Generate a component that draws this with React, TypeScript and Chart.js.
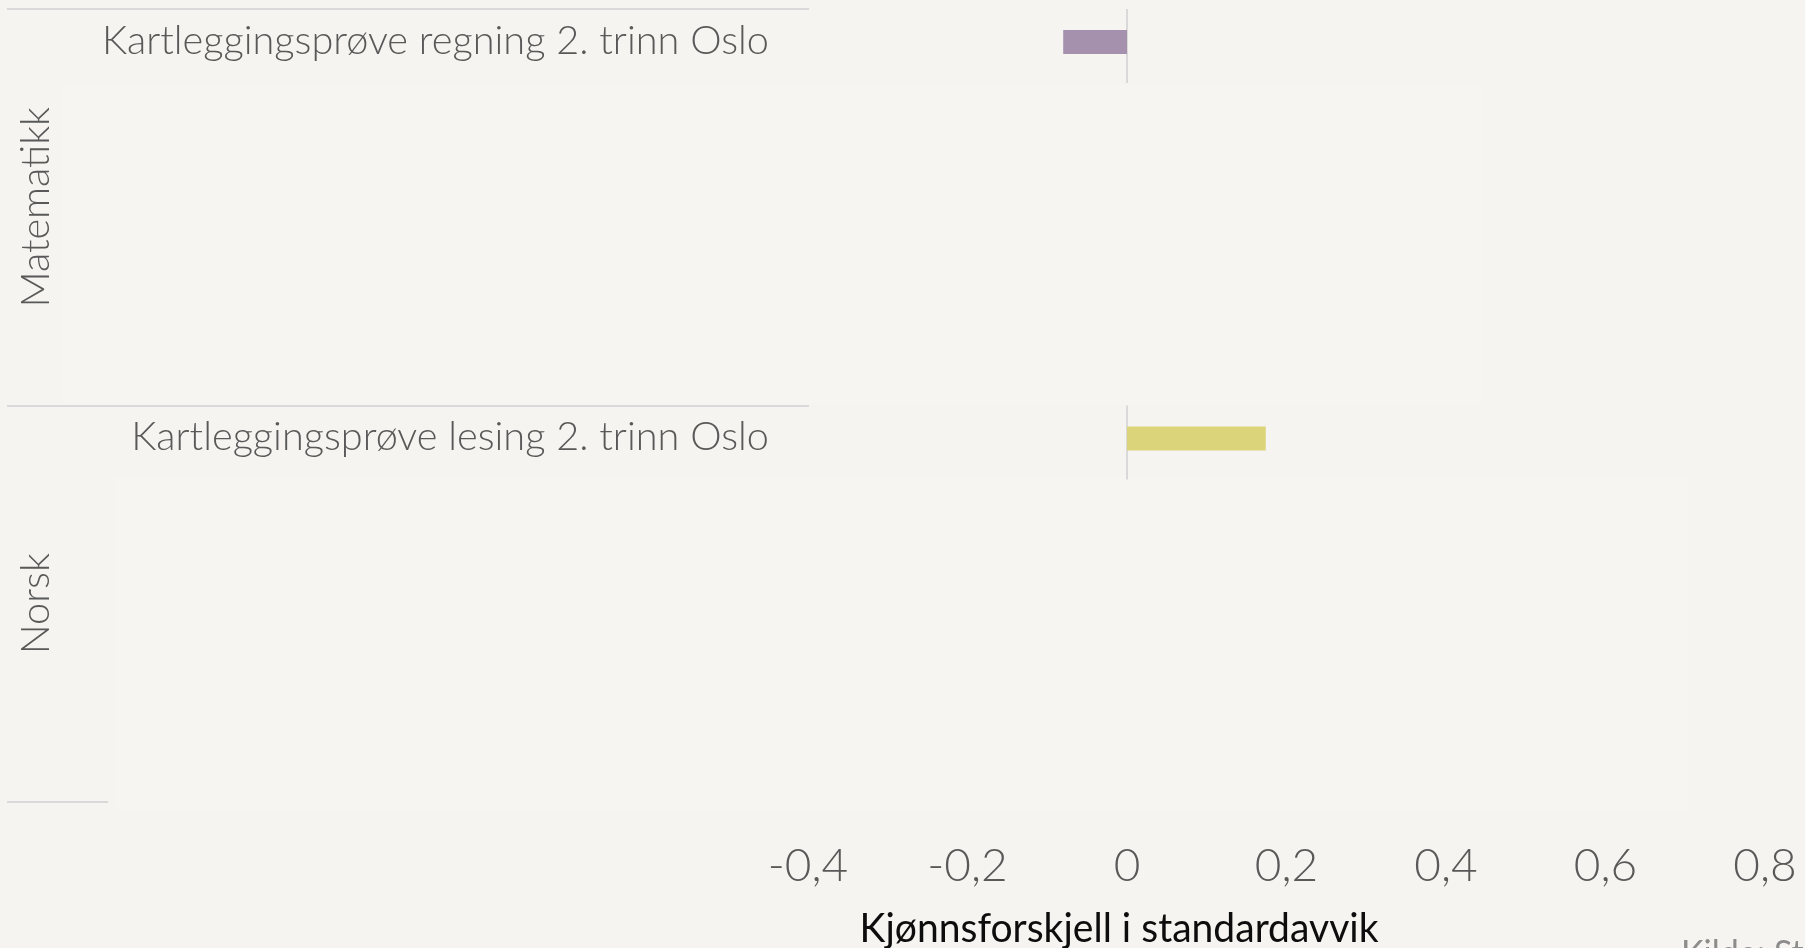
import React, { useEffect, useRef } from "react";
import { Chart, registerables } from "chart.js";

Chart.register(...registerables);

// ---------- data ----------
const groups = ["Matematikk", "Norsk"];
const categories = [
  "Kartleggingsprøve regning 2. trinn Oslo",
  "Kartleggingsprøve lesing 2. trinn Oslo",
];
const values = [-0.08, 0.174];
const barColors = ["#a591ad", "#dbd47a"];
const xTicks = [-0.4, -0.2, 0, 0.2, 0.4, 0.6, 0.8];
const slotsPerGroup = 6;
const axisTitle = "Kjønnsforskjell i standardavvik";
const sourceText = "Kilde: Statistisk sentralbyrå";

// ---------- styles ----------
const W = 1805;
const H = 948;
const BG = "#f5f4f0";
const LINE = "#d9d9d9";
const LABEL_COLOR = "#595959";
const FONT = "Lato, 'Open Sans', sans-serif";

function fmt(v: number): string {
  if (Math.abs(v) < 1e-9) return "0";
  return v.toFixed(1).replace(".", ",");
}

function drawScaledText(
  ctx: CanvasRenderingContext2D,
  text: string,
  x: number,
  y: number,
  font: string,
  color: string,
  sx: number,
  align: CanvasTextAlign
) {
  ctx.save();
  ctx.font = font;
  ctx.translate(x, y);
  ctx.scale(sx, 1);
  ctx.textAlign = align;
  ctx.textBaseline = "middle";
  ctx.fillStyle = color;
  ctx.fillText(text, 0, 0);
  ctx.restore();
}

export default function App() {
  const ref = useRef<HTMLCanvasElement | null>(null);

  useEffect(() => {
    const canvas = ref.current;
    if (!canvas) return;

    const labels: string[] = [];
    const data: (number | null)[] = [];
    const colors: string[] = [];
    groups.forEach((_, g) => {
      for (let i = 0; i < slotsPerGroup; i++) {
        labels.push(i === 0 ? categories[g] : "");
        data.push(i === 0 ? values[g] : null);
        colors.push(barColors[g]);
      }
    });

    const decor = {
      id: "decor",
      beforeDraw(chart: any) {
        const ctx = chart.ctx as CanvasRenderingContext2D;
        ctx.save();
        ctx.fillStyle = BG;
        ctx.fillRect(0, 0, W, H);
        // faint lighter panels
        ctx.fillStyle = "#f7f5f2";
        ctx.fillRect(62, 84, 1420, 321);
        ctx.fillRect(115, 476, 1572, 334);
        ctx.restore();
      },
      beforeDatasetsDraw(chart: any) {
        const ctx = chart.ctx as CanvasRenderingContext2D;
        const area = chart.chartArea;
        const xs = chart.scales.x;
        const ys = chart.scales.y;
        const band = (area.bottom - area.top) / labels.length;
        const groupH = band * slotsPerGroup;
        const x0 = xs.getPixelForValue(0);
        ctx.save();
        ctx.strokeStyle = LINE;
        ctx.lineWidth = 2;
        groups.forEach((_, g) => {
          const top = area.top + g * groupH;
          ctx.beginPath();
          ctx.moveTo(x0, top);
          ctx.lineTo(x0, top + band * 1.12);
          ctx.stroke();
        });
        // group separators
        for (let g = 0; g <= groups.length; g++) {
          const y = Math.round(area.top + g * groupH);
          ctx.beginPath();
          ctx.moveTo(7, y);
          ctx.lineTo(g === groups.length ? 108 : area.left + 1, y);
          ctx.stroke();
        }
        ctx.restore();

        // category labels
        const labelFont = `300 40px ${FONT}`;
        ctx.save();
        ctx.font = labelFont;
        const sx = 667 / ctx.measureText(categories[0]).width;
        ctx.restore();
        groups.forEach((_, g) => {
          const idx = g * slotsPerGroup;
          const y = ys.getPixelForValue(idx) - 1;
          drawScaledText(ctx, categories[g], 769, y, labelFont, LABEL_COLOR, sx, "right");
        });

        // group labels (rotated)
        groups.forEach((name, g) => {
          const cy = area.top + (g + 0.5) * groupH;
          ctx.save();
          ctx.translate(36, cy);
          ctx.rotate(-Math.PI / 2);
          drawScaledText(ctx, name, 0, 0, labelFont, LABEL_COLOR, sx, "center");
          ctx.restore();
        });

        // axis title
        const titleFont = `400 40px ${FONT}`;
        ctx.save();
        ctx.font = titleFont;
        const tsx = 519 / ctx.measureText(axisTitle).width;
        ctx.restore();
        drawScaledText(ctx, axisTitle, 1119, 929, titleFont, "#0d0d0d", tsx, "center");

        // source
        ctx.save();
        ctx.font = `400 34px ${FONT}`;
        ctx.fillStyle = "#8c8c8c";
        ctx.textAlign = "left";
        ctx.textBaseline = "alphabetic";
        ctx.fillText(sourceText, 1681, 965);
        ctx.restore();
      },
    };

    const chart = new Chart(canvas, {
      type: "bar",
      data: {
        labels,
        datasets: [
          {
            data,
            backgroundColor: colors,
            borderWidth: 0,
            categoryPercentage: 1,
            barPercentage: 0.364,
          },
        ],
      },
      options: {
        indexAxis: "y",
        animation: false,
        responsive: false,
        maintainAspectRatio: false,
        layout: { padding: { top: 9, right: 40, left: 0, bottom: 0 } },
        plugins: {
          legend: { display: false },
          tooltip: { enabled: false },
        },
        scales: {
          x: {
            type: "linear",
            min: xTicks[0],
            max: xTicks[xTicks.length - 1],
            afterBuildTicks(scale: any) {
              scale.ticks = xTicks.map((v) => ({ value: v }));
            },
            afterFit(scale: any) {
              scale.height = H - 802;
              scale.paddingLeft = 0;
              scale.paddingRight = 0;
            },
            grid: { display: false, drawTicks: false },
            border: { display: false },
            ticks: {
              padding: 37,
              color: LABEL_COLOR,
              font: { family: FONT, size: 46, weight: "300" as any },
              maxRotation: 0,
              autoSkip: false,
              callback: (v: any) => fmt(Number(v)),
            },
          },
          y: {
            type: "category",
            afterFit(scale: any) {
              scale.width = 808;
            },
            grid: { display: false, drawTicks: false },
            border: { display: false },
            ticks: { display: false },
          },
        },
      },
      plugins: [decor],
    });

    return () => chart.destroy();
  }, []);

  return (
    <div style={{ position: "fixed", left: 0, top: 0, width: W, height: H, background: BG }}>
      <canvas ref={ref} width={W} height={H} style={{ display: "block", width: W, height: H }} />
    </div>
  );
}
